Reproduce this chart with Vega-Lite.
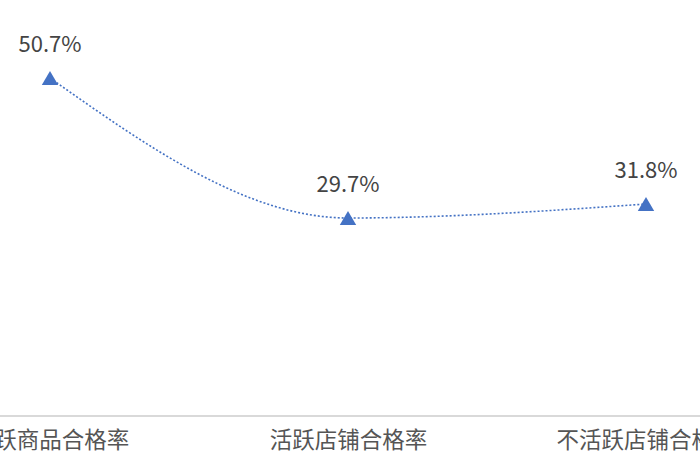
{
  "$schema": "https://vega.github.io/schema/vega-lite/v6.json",
  "width": 700,
  "height": 416,
  "autosize": {"type": "none"},
  "padding": {"left": 0, "top": 0, "right": 0, "bottom": 54},
  "background": "white",
  "config": {"view": {"stroke": null}, "font": "Noto Sans CJK SC"},
  "data": {"values": [
    {"category": "活跃商品合格率", "rate": 50.7, "label": "50.7%"},
    {"category": "活跃店铺合格率", "rate": 29.7, "label": "29.7%"},
    {"category": "不活跃店铺合格率", "rate": 31.8, "label": "31.8%"}
  ]},
  "encoding": {
    "x": {"field": "category", "type": "nominal", "sort": null,
      "scale": {"type": "point", "range": [50, 646], "padding": 0},
      "axis": {"title": null, "domain": false, "ticks": false, "labelAngle": 0, "labelFontSize": 22.5, "labelColor": "#555555", "labelPadding": 13, "labelLimit": 400, "labelOverlap": false, "labelFont": "Noto Sans CJK SC"}},
    "y": {"field": "rate", "type": "quantitative", "scale": {"domain": [0, 62.4], "nice": false, "zero": true}, "axis": null}
  },
  "layer": [
    {"mark": {"type": "rule", "color": "#d9d9d9", "strokeWidth": 1.5}, "encoding": {"x": null, "y": {"datum": 0}}},
    {"mark": {"type": "line", "color": "#4472C4", "strokeDash": [2, 2], "strokeWidth": 1.6, "interpolate": "monotone"}},
    {"mark": {"type": "point", "shape": "triangle-up", "filled": true, "color": "#4472C4", "size": 270, "opacity": 1}},
    {"mark": {"type": "text", "fontSize": 22, "color": "#444444", "dy": -26, "baseline": "alphabetic"}, "encoding": {"text": {"field": "label"}}}
  ]
}
